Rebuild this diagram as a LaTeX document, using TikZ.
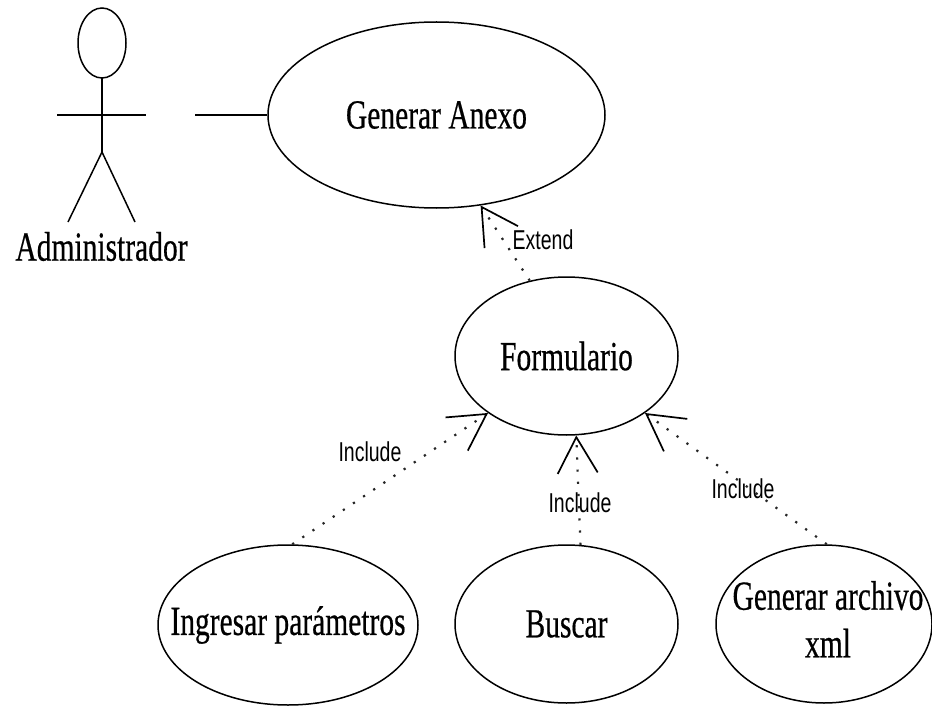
\documentclass[tikz,border=0pt]{standalone}
\usepackage{fontspec}
\setmainfont{Liberation Serif}
\newfontfamily\ucfont[FakeBold=0.6]{Liberation Serif}
\newfontfamily\relfont{Liberation Sans}
\usepackage{graphicx}
\usetikzlibrary{arrows.meta,shapes.geometric}
% tall, narrow lettering used throughout the diagram
\newcommand{\tallbox}[1]{\scalebox{1}[1.4]{#1}}

\begin{document}
\begin{tikzpicture}[x=1pt,y=-1pt,
  usecase/.style={draw, ellipse, line width=1.5pt, inner sep=0pt},
  uctext/.style={font=\ucfont\fontsize{29.5}{34}\selectfont, inner sep=0pt},
  rel/.style={line width=2.2pt, black!85, dash pattern=on 2.2pt off 10pt,
    -{Straight Barb[length=36pt,width=40pt,line width=1.7pt,color=black]}},
  rellabel/.style={font=\relfont\fontsize{19.5}{22}\selectfont, inner sep=0pt},
  stick/.style={line width=1.5pt}]
\useasboundingbox (0,0) rectangle (932,706);

% actor
\draw[stick] (102,43) ellipse [x radius=24pt, y radius=35pt];
\draw[stick] (102,78) -- (102,152);
\draw[stick] (57,115) -- (146,115);
\draw[stick] (68,222) -- (102,152) -- (135,222);
\node[uctext] (admin) at (101.5,246.5) {\tallbox{Administrador}};

% use cases
\node[usecase, minimum width=337pt, minimum height=186pt,
  label={[uctext]center:\tallbox{Generar Anexo}}] (anexo) at (436.5,115) {};
\node[usecase, minimum width=223pt, minimum height=158pt,
  label={[uctext]center:\tallbox{Formulario}}] (form) at (566.5,356) {};
\node[usecase, minimum width=260pt, minimum height=160pt,
  label={[uctext]center:\tallbox{Ingresar parámetros}}] (ingresar) at (288,625) {};
\node[usecase, minimum width=223pt, minimum height=158pt,
  label={[uctext]center:\tallbox{Buscar}}] (buscar) at (566.5,624) {};
\node[usecase, minimum width=216pt, minimum height=158pt,
  label={[uctext, xshift=4pt]center:\tallbox{\begin{tabular}{@{}c@{}}Generar archivo\\xml\end{tabular}}}] (genxml) at (824,624) {};

% association
\coordinate (assoc) at (195,115);
\draw[stick] (assoc) -- (anexo.west);

% relationships
\draw[rel] (form.116) -- (anexo.296);
\draw[rel] (ingresar.87) -- (form.216);
\draw[rel] (buscar.80) -- (form.277);
\draw[rel] (genxml.88) -- (form.324);

\node[rellabel] (lblext) at (543,240) {\tallbox{Extend}};
\node[rellabel] (lblinc1) at (370,452) {\tallbox{Include}};
\node[rellabel] (lblinc2) at (580,503) {\tallbox{Include}};
\node[rellabel] (lblinc3) at (743,489) {\tallbox{Include}};
\end{tikzpicture}
\end{document}
